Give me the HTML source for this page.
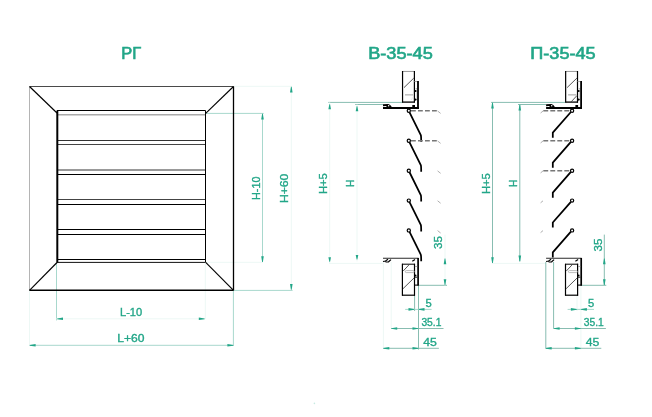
<!DOCTYPE html>
<html><head><meta charset="utf-8"><style>
html,body{margin:0;padding:0;background:#fff;}
svg{display:block;will-change:transform;font-family:"Liberation Sans",sans-serif;}
</style></head><body>
<svg width="652" height="417" viewBox="0 0 652 417">
<rect width="652" height="417" fill="#fff"/>
<line x1="234" y1="86.3" x2="292" y2="86.3" stroke="#edf8f5" stroke-width="1" />
<line x1="291.3" y1="86.5" x2="291.3" y2="290.3" stroke="#edf8f5" stroke-width="1" />
<line x1="233.5" y1="290.4" x2="292.6" y2="290.4" stroke="#a8d8cd" stroke-width="1" />
<line x1="206" y1="113.4" x2="263.7" y2="113.4" stroke="#a8d8cd" stroke-width="1" />
<line x1="262.5" y1="113.4" x2="262.5" y2="262.2" stroke="#a8d8cd" stroke-width="1" />
<line x1="206" y1="262.3" x2="263" y2="262.3" stroke="#edf8f5" stroke-width="1" />
<line x1="56.5" y1="263" x2="56.5" y2="320.4" stroke="#a8d8cd" stroke-width="1" />
<line x1="205.3" y1="262.5" x2="205.3" y2="319" stroke="#edf8f5" stroke-width="1" />
<line x1="56.5" y1="318.8" x2="205.3" y2="318.8" stroke="#edf8f5" stroke-width="1" />
<line x1="29.5" y1="290.5" x2="29.5" y2="345.5" stroke="#edf8f5" stroke-width="1" />
<line x1="233.4" y1="290.5" x2="233.4" y2="346" stroke="#a8d8cd" stroke-width="1" />
<line x1="29.5" y1="345.3" x2="233.4" y2="345.3" stroke="#a8d8cd" stroke-width="1" />
<line x1="328.3" y1="102.4" x2="402.4" y2="102.4" stroke="#88bdb1" stroke-width="1" />
<line x1="355.2" y1="104.5" x2="383.2" y2="104.5" stroke="#88bdb1" stroke-width="1" />
<line x1="329.7" y1="102.4" x2="329.7" y2="263.3" stroke="#edf8f5" stroke-width="1" />
<line x1="357" y1="104.5" x2="357" y2="261.5" stroke="#edf8f5" stroke-width="1" />
<line x1="329" y1="263.4" x2="383" y2="263.4" stroke="#edf8f5" stroke-width="1" />
<line x1="491.1" y1="102.4" x2="565.2" y2="102.4" stroke="#88bdb1" stroke-width="1" />
<line x1="518" y1="104.5" x2="546" y2="104.5" stroke="#88bdb1" stroke-width="1" />
<line x1="492.5" y1="102.4" x2="492.5" y2="263.3" stroke="#88bdb1" stroke-width="1" />
<line x1="519.8" y1="104.5" x2="519.8" y2="261.5" stroke="#88bdb1" stroke-width="1" />
<line x1="491.8" y1="263.4" x2="545.8" y2="263.4" stroke="#edf8f5" stroke-width="1" />
<line x1="418.8" y1="285.3" x2="447" y2="285.3" stroke="#88bdb1" stroke-width="1" />
<line x1="445" y1="234.6" x2="445" y2="285.3" stroke="#edf8f5" stroke-width="1" />
<line x1="383.4" y1="262" x2="383.4" y2="348.5" stroke="#edf8f5" stroke-width="1" />
<line x1="391.2" y1="262" x2="391.2" y2="328.5" stroke="#edf8f5" stroke-width="1" />
<line x1="414.6" y1="295.5" x2="414.6" y2="311" stroke="#88bdb1" stroke-width="1" />
<line x1="418.5" y1="285.3" x2="418.5" y2="349.5" stroke="#88bdb1" stroke-width="1" />
<line x1="405.2" y1="309.4" x2="431.6" y2="309.4" stroke="#a8d8cd" stroke-width="1" />
<line x1="391.1" y1="328.5" x2="443.5" y2="328.5" stroke="#88bdb1" stroke-width="1" />
<line x1="383.2" y1="348.3" x2="438.9" y2="348.3" stroke="#88bdb1" stroke-width="1" />
<line x1="581.2" y1="285.3" x2="606.3" y2="285.3" stroke="#88bdb1" stroke-width="1" />
<line x1="604.3" y1="234.6" x2="604.3" y2="285.3" stroke="#88bdb1" stroke-width="1" />
<line x1="545.8" y1="262" x2="545.8" y2="348.5" stroke="#88bdb1" stroke-width="1" />
<line x1="553.6" y1="262" x2="553.6" y2="328.5" stroke="#88bdb1" stroke-width="1" />
<line x1="577" y1="295.5" x2="577" y2="311" stroke="#edf8f5" stroke-width="1" />
<line x1="580.9" y1="285.3" x2="580.9" y2="349.5" stroke="#edf8f5" stroke-width="1" />
<line x1="567.6" y1="309.4" x2="594" y2="309.4" stroke="#a8d8cd" stroke-width="1" />
<line x1="553.5" y1="328.5" x2="605.9" y2="328.5" stroke="#88bdb1" stroke-width="1" />
<line x1="545.6" y1="348.3" x2="601.3" y2="348.3" stroke="#88bdb1" stroke-width="1" />
<text x="121.2" y="58.8" font-size="17" font-weight="normal" fill="#22a688" stroke="#22a688" stroke-width="0.65" textLength="19.9" lengthAdjust="spacingAndGlyphs">РГ</text>
<line x1="29.5" y1="86.5" x2="233.5" y2="86.5" stroke="#4a4a4a" stroke-width="1" />
<line x1="29.5" y1="86.5" x2="29.5" y2="290.3" stroke="#b4b4b4" stroke-width="1" />
<line x1="233.5" y1="86.5" x2="233.5" y2="290.3" stroke="#000" stroke-width="1.3" />
<line x1="29.5" y1="290.3" x2="233.5" y2="290.3" stroke="#000" stroke-width="1.4" />
<line x1="29.5" y1="86.5" x2="57" y2="113" stroke="#000" stroke-width="1.15" />
<line x1="233.5" y1="86.5" x2="205.7" y2="113.3" stroke="#000" stroke-width="1.15" />
<line x1="29.5" y1="290.3" x2="57" y2="262.5" stroke="#000" stroke-width="1.15" />
<line x1="233.5" y1="290.3" x2="205.7" y2="262.3" stroke="#000" stroke-width="1.15" />
<line x1="57" y1="110.5" x2="205.5" y2="110.5" stroke="#000" stroke-width="1" />
<line x1="57" y1="114.7" x2="205.5" y2="114.7" stroke="#aaa" stroke-width="1.5" />
<line x1="57" y1="140.5" x2="205.5" y2="140.5" stroke="#333" stroke-width="1" />
<line x1="57" y1="144.5" x2="205.5" y2="144.5" stroke="#444" stroke-width="1" />
<line x1="57" y1="170" x2="205.5" y2="170" stroke="#777" stroke-width="1.5" />
<line x1="57" y1="174.5" x2="205.5" y2="174.5" stroke="#000" stroke-width="1" />
<line x1="57" y1="199.5" x2="205.5" y2="199.5" stroke="#444" stroke-width="1" />
<line x1="57" y1="204.5" x2="205.5" y2="204.5" stroke="#000" stroke-width="1" />
<line x1="57" y1="229.5" x2="205.5" y2="229.5" stroke="#000" stroke-width="1" />
<line x1="57" y1="234.5" x2="205.5" y2="234.5" stroke="#000" stroke-width="1" />
<line x1="57" y1="259.5" x2="205.5" y2="259.5" stroke="#000" stroke-width="1" />
<line x1="57" y1="262.4" x2="205.5" y2="262.4" stroke="#111" stroke-width="1" />
<line x1="57.3" y1="110.6" x2="57.3" y2="262.6" stroke="#000" stroke-width="2.0" />
<line x1="205.5" y1="110.5" x2="205.5" y2="262.3" stroke="#000" stroke-width="1" />
<polygon points="290.95,86.8 291.65,86.8 292.6,92.6 290,92.6" fill="#22a688"/>
<polygon points="290.95,289.8 291.65,289.8 292.6,284 290,284" fill="#22a688"/>
<polygon points="262.15,113.8 262.85,113.8 263.8,119.6 261.2,119.6" fill="#22a688"/>
<polygon points="262.15,262 262.85,262 263.8,256.2 261.2,256.2" fill="#22a688"/>
<text transform="translate(260,200) rotate(-90)" x="0" y="0" font-size="11" font-weight="normal" fill="#22a688" stroke="#22a688" stroke-width="0.35" textLength="23.5" lengthAdjust="spacingAndGlyphs">H-10</text>
<text transform="translate(288.4,203.1) rotate(-90)" x="0" y="0" font-size="11" font-weight="normal" fill="#22a688" stroke="#22a688" stroke-width="0.35" textLength="29.3" lengthAdjust="spacingAndGlyphs">H+60</text>
<polygon points="57.2,318.45 57.2,319.15 63,320.1 63,317.5" fill="#22a688"/>
<polygon points="204.6,318.45 204.6,319.15 198.8,320.1 198.8,317.5" fill="#22a688"/>
<text x="120" y="315.8" font-size="11" font-weight="normal" fill="#22a688" stroke="#22a688" stroke-width="0.35" textLength="22.2" lengthAdjust="spacingAndGlyphs">L-10</text>
<polygon points="29.8,344.95 29.8,345.65 35.6,346.6 35.6,344" fill="#22a688"/>
<polygon points="233.2,344.95 233.2,345.65 227.4,346.6 227.4,344" fill="#22a688"/>
<text x="117.3" y="342.3" font-size="11" font-weight="normal" fill="#22a688" stroke="#22a688" stroke-width="0.35" textLength="27.2" lengthAdjust="spacingAndGlyphs">L+60</text>
<path d="M409.4,112.1 L420.8,135.1 Q421.2,136.1 421.2,141.7" fill="none" stroke="#000" stroke-width="1.75"/>
<line x1="411" y1="110.8" x2="438" y2="110.8" stroke="#777" stroke-width="1.6" stroke-dasharray="4.8 2.2"/>
<path d="M437.6,111 L440.6,113.4" stroke="#999" stroke-width="0.8"/>
<circle cx="408.8" cy="110.8" r="1.6" fill="#fff" stroke="#000" stroke-width="1.2"/>
<path d="M409.4,142.05 L420.8,165.05 Q421.2,166.05 421.2,171.65" fill="none" stroke="#000" stroke-width="1.75"/>
<line x1="411" y1="140.75" x2="438" y2="140.75" stroke="#777" stroke-width="1.6" stroke-dasharray="4.8 2.2"/>
<path d="M437.6,140.95 L440.6,143.35" stroke="#999" stroke-width="0.8"/>
<circle cx="408.8" cy="140.75" r="1.6" fill="#fff" stroke="#000" stroke-width="1.2"/>
<path d="M409.4,172 L420.8,195 Q421.2,196 421.2,201.6" fill="none" stroke="#000" stroke-width="1.75"/>
<path d="M437.6,170.9 L440.6,173.3" stroke="#999" stroke-width="0.8"/>
<circle cx="408.8" cy="170.7" r="1.6" fill="#fff" stroke="#000" stroke-width="1.2"/>
<path d="M409.4,201.9 L420.8,224.9 Q421.2,225.9 421.2,231.5" fill="none" stroke="#000" stroke-width="1.75"/>
<path d="M437.6,200.8 L440.6,203.2" stroke="#999" stroke-width="0.8"/>
<circle cx="408.8" cy="200.6" r="1.6" fill="#fff" stroke="#000" stroke-width="1.2"/>
<path d="M409.4,231.7 L420.8,254.7 Q421.2,255.7 421.2,261.3" fill="none" stroke="#000" stroke-width="1.75"/>
<path d="M437.6,230.6 L440.6,233" stroke="#999" stroke-width="0.8"/>
<circle cx="408.8" cy="230.4" r="1.6" fill="#fff" stroke="#000" stroke-width="1.2"/>
<line x1="402.55" y1="71.45" x2="414.4" y2="71.45" stroke="#999" stroke-width="1" />
<line x1="402.55" y1="71" x2="402.55" y2="102.6" stroke="#000" stroke-width="1.2" />
<line x1="414.4" y1="71" x2="414.4" y2="102.6" stroke="#000" stroke-width="1.2" />
<line x1="402.1" y1="102.1" x2="414.9" y2="102.1" stroke="#000" stroke-width="1.3" />
<line x1="404" y1="87.6" x2="413.8" y2="78.1" stroke="#444" stroke-width="0.9" />
<line x1="411" y1="100" x2="413.3" y2="97" stroke="#ddd" stroke-width="0.6" />
<line x1="405" y1="94.8" x2="413.3" y2="94.8" stroke="#c4c4c4" stroke-width="1.6" />
<line x1="414.5" y1="81.5" x2="417.2" y2="81.5" stroke="#aaa" stroke-width="1" />
<line x1="415.6" y1="88.8" x2="417.2" y2="88.8" stroke="#888" stroke-width="0.8" />
<circle cx="415.6" cy="91" r="1.1" fill="#000"/>
<circle cx="415.6" cy="99.6" r="1.1" fill="#000"/>
<line x1="416.3" y1="92" x2="416.3" y2="98.5" stroke="#bbb" stroke-width="0.6" />
<line x1="418" y1="81.1" x2="418" y2="108.9" stroke="#000" stroke-width="1.8" />
<line x1="383" y1="108.05" x2="418.8" y2="108.05" stroke="#000" stroke-width="1.9" />
<path d="M383,104.3 L388.3,104 Q390.3,104.2 392,107.3 L386.8,107.3 Q386.6,106.1 385.6,106.1 L383,106.2 Z" fill="#000"/>
<circle cx="388.6" cy="105.8" r="0.75" fill="#fff"/>
<rect x="412.3" y="105" width="2.7" height="2.2" fill="#000"/>
<line x1="383" y1="258.25" x2="418.5" y2="258.25" stroke="#2a2a2a" stroke-width="1.15" />
<path d="M383,261.5 L385.5,261 L388,259.3 M385.5,262 L388.5,261.8 L391,259.6" fill="none" stroke="#000" stroke-width="1.2"/>
<path d="M412.3,261.3 L415,259.5" stroke="#000" stroke-width="1.2"/>
<line x1="418.1" y1="258" x2="418.1" y2="285.6" stroke="#000" stroke-width="1.7" />
<line x1="414.6" y1="285.1" x2="418.8" y2="285.1" stroke="#000" stroke-width="1.1" />
<line x1="402.4" y1="263.8" x2="402.4" y2="295.7" stroke="#000" stroke-width="1.2" />
<line x1="414.5" y1="263.8" x2="414.5" y2="295.7" stroke="#000" stroke-width="1.2" />
<line x1="402" y1="264.2" x2="415" y2="264.2" stroke="#000" stroke-width="1" />
<line x1="402" y1="295.2" x2="415" y2="295.2" stroke="#000" stroke-width="1.2" />
<line x1="403.2" y1="271" x2="409.5" y2="264.3" stroke="#444" stroke-width="0.9" />
<line x1="403" y1="288.7" x2="414" y2="278" stroke="#444" stroke-width="0.9" />
<rect x="405.3" y="270.6" width="9" height="2" rx="1" fill="none" stroke="#aaa" stroke-width="0.8"/>
<line x1="414.9" y1="266.5" x2="417.2" y2="266.5" stroke="#999" stroke-width="0.8" />
<circle cx="415.6" cy="275.5" r="0.9" fill="#000"/>
<line x1="414.6" y1="277.2" x2="417.2" y2="277.2" stroke="#000" stroke-width="0.9" />
<path d="M570.9,112 L552.8,132.7 L552.8,137.8" fill="none" stroke="#000" stroke-width="1.75"/>
<line x1="543.3" y1="110.8" x2="570" y2="110.8" stroke="#777" stroke-width="1.6" stroke-dasharray="4.9 2.1"/>
<path d="M540.6,113 L543,111" stroke="#999" stroke-width="0.8"/>
<circle cx="572.1" cy="110.8" r="1.6" fill="#fff" stroke="#000" stroke-width="1.2"/>
<path d="M570.9,141.95 L552.8,162.65 L552.8,167.75" fill="none" stroke="#000" stroke-width="1.75"/>
<line x1="543.3" y1="140.75" x2="570" y2="140.75" stroke="#777" stroke-width="1.6" stroke-dasharray="4.9 2.1"/>
<path d="M540.6,142.95 L543,140.95" stroke="#999" stroke-width="0.8"/>
<circle cx="572.1" cy="140.75" r="1.6" fill="#fff" stroke="#000" stroke-width="1.2"/>
<path d="M570.9,171.9 L552.8,192.6 L552.8,197.7" fill="none" stroke="#000" stroke-width="1.75"/>
<line x1="543.3" y1="170.7" x2="570" y2="170.7" stroke="#777" stroke-width="1.6" stroke-dasharray="4.9 2.1"/>
<path d="M540.6,172.9 L543,170.9" stroke="#999" stroke-width="0.8"/>
<circle cx="572.1" cy="170.7" r="1.6" fill="#fff" stroke="#000" stroke-width="1.2"/>
<path d="M570.9,201.8 L552.8,222.5 L552.8,227.6" fill="none" stroke="#000" stroke-width="1.75"/>
<path d="M540.6,202.8 L543,200.8" stroke="#999" stroke-width="0.8"/>
<circle cx="572.1" cy="200.6" r="1.6" fill="#fff" stroke="#000" stroke-width="1.2"/>
<path d="M570.9,231.6 L552.8,252.3 L552.8,257.4" fill="none" stroke="#000" stroke-width="1.75"/>
<path d="M540.6,232.6 L543,230.6" stroke="#999" stroke-width="0.8"/>
<circle cx="572.1" cy="230.4" r="1.6" fill="#fff" stroke="#000" stroke-width="1.2"/>
<line x1="565.65" y1="71.45" x2="577.5" y2="71.45" stroke="#999" stroke-width="1" />
<line x1="565.65" y1="71" x2="565.65" y2="102.6" stroke="#000" stroke-width="1.2" />
<line x1="577.5" y1="71" x2="577.5" y2="102.6" stroke="#000" stroke-width="1.2" />
<line x1="565.2" y1="102.1" x2="578" y2="102.1" stroke="#000" stroke-width="1.3" />
<line x1="567.1" y1="87.6" x2="576.9" y2="78.1" stroke="#444" stroke-width="0.9" />
<line x1="571" y1="102" x2="577" y2="95.5" stroke="#444" stroke-width="0.9" />
<line x1="568.1" y1="94.8" x2="576.4" y2="94.8" stroke="#c4c4c4" stroke-width="1.6" />
<line x1="577.6" y1="81.5" x2="580.3" y2="81.5" stroke="#aaa" stroke-width="1" />
<line x1="578.7" y1="88.8" x2="580.3" y2="88.8" stroke="#888" stroke-width="0.8" />
<circle cx="578.7" cy="91" r="1.1" fill="#000"/>
<circle cx="578.7" cy="99.6" r="1.1" fill="#000"/>
<line x1="579.4" y1="92" x2="579.4" y2="98.5" stroke="#bbb" stroke-width="0.6" />
<line x1="581.1" y1="81.1" x2="581.1" y2="108.9" stroke="#000" stroke-width="1.8" />
<line x1="546.1" y1="108.05" x2="581.9" y2="108.05" stroke="#000" stroke-width="1.9" />
<path d="M546.1,104.3 L551.4,104 Q553.4,104.2 555.1,107.3 L549.9,107.3 Q549.7,106.1 548.7,106.1 L546.1,106.2 Z" fill="#000"/>
<circle cx="551.7" cy="105.8" r="0.75" fill="#fff"/>
<rect x="575.4" y="105" width="2.7" height="2.2" fill="#000"/>
<line x1="546.1" y1="258.25" x2="581.6" y2="258.25" stroke="#2a2a2a" stroke-width="1.15" />
<path d="M546.1,261.5 L548.6,261 L551.1,259.3 M548.6,262 L551.6,261.8 L554.1,259.6" fill="none" stroke="#000" stroke-width="1.2"/>
<path d="M575.4,261.3 L578.1,259.5" stroke="#000" stroke-width="1.2"/>
<line x1="581.2" y1="258" x2="581.2" y2="285.6" stroke="#000" stroke-width="1.7" />
<line x1="577.7" y1="285.1" x2="581.9" y2="285.1" stroke="#000" stroke-width="1.1" />
<line x1="565.5" y1="263.8" x2="565.5" y2="295.7" stroke="#000" stroke-width="1.2" />
<line x1="577.6" y1="263.8" x2="577.6" y2="295.7" stroke="#000" stroke-width="1.2" />
<line x1="565.1" y1="264.2" x2="578.1" y2="264.2" stroke="#000" stroke-width="1" />
<line x1="565.1" y1="295.2" x2="578.1" y2="295.2" stroke="#000" stroke-width="1.2" />
<line x1="566.3" y1="271" x2="572.6" y2="264.3" stroke="#444" stroke-width="0.9" />
<line x1="566.1" y1="288.7" x2="577.1" y2="278" stroke="#444" stroke-width="0.9" />
<rect x="568.4" y="270.6" width="9" height="2" rx="1" fill="none" stroke="#aaa" stroke-width="0.8"/>
<line x1="578" y1="266.5" x2="580.3" y2="266.5" stroke="#999" stroke-width="0.8" />
<circle cx="578.7" cy="275.5" r="0.9" fill="#000"/>
<line x1="577.7" y1="277.2" x2="580.3" y2="277.2" stroke="#000" stroke-width="0.9" />
<text x="368.2" y="58.6" font-size="17" font-weight="normal" fill="#22a688" stroke="#22a688" stroke-width="0.65" textLength="64.6" lengthAdjust="spacingAndGlyphs">В-35-45</text>
<text x="530.3" y="58.6" font-size="17" font-weight="normal" fill="#22a688" stroke="#22a688" stroke-width="0.65" textLength="65.3" lengthAdjust="spacingAndGlyphs">П-35-45</text>
<polygon points="329.35,104.2 330.05,104.2 331,109.2 328.4,109.2" fill="#22a688"/>
<polygon points="329.35,261.8 330.05,261.8 331,257.3 328.4,257.3" fill="#22a688"/>
<polygon points="356.65,106.3 357.35,106.3 358.3,111.3 355.7,111.3" fill="#22a688"/>
<polygon points="356.65,259.6 357.35,259.6 358.3,255.1 355.7,255.1" fill="#22a688"/>
<text transform="translate(327,194) rotate(-90)" x="0" y="0" font-size="11" font-weight="normal" fill="#22a688" stroke="#22a688" stroke-width="0.35" textLength="20.8" lengthAdjust="spacingAndGlyphs">H+5</text>
<text transform="translate(354,187) rotate(-90)" x="0" y="0" font-size="11" font-weight="normal" fill="#22a688" stroke="#22a688" stroke-width="0.35" textLength="7.2" lengthAdjust="spacingAndGlyphs">H</text>
<polygon points="492.15,102.8 492.85,102.8 493.8,108.6 491.2,108.6" fill="#22a688"/>
<polygon points="492.15,263 492.85,263 493.8,257.2 491.2,257.2" fill="#22a688"/>
<polygon points="519.45,104.8 520.15,104.8 521.1,110.6 518.5,110.6" fill="#22a688"/>
<polygon points="519.45,261.3 520.15,261.3 521.1,255.5 518.5,255.5" fill="#22a688"/>
<text transform="translate(489.8,194) rotate(-90)" x="0" y="0" font-size="11" font-weight="normal" fill="#22a688" stroke="#22a688" stroke-width="0.35" textLength="20.8" lengthAdjust="spacingAndGlyphs">H+5</text>
<text transform="translate(516.8,187) rotate(-90)" x="0" y="0" font-size="11" font-weight="normal" fill="#22a688" stroke="#22a688" stroke-width="0.35" textLength="7.2" lengthAdjust="spacingAndGlyphs">H</text>
<polygon points="444.65,258.4 445.35,258.4 446.3,264.2 443.7,264.2" fill="#22a688"/>
<polygon points="444.65,285 445.35,285 446.3,279.2 443.7,279.2" fill="#22a688"/>
<text transform="translate(442.4,248.9) rotate(-90)" x="0" y="0" font-size="11" font-weight="normal" fill="#22a688" stroke="#22a688" stroke-width="0.35" textLength="12.8" lengthAdjust="spacingAndGlyphs">35</text>
<polygon points="414.3,309.05 414.3,309.75 408.5,310.7 408.5,308.1" fill="#22a688"/>
<polygon points="418.7,309.05 418.7,309.75 424.5,310.7 424.5,308.1" fill="#22a688"/>
<text x="425.6" y="307" font-size="11" font-weight="normal" fill="#22a688" stroke="#22a688" stroke-width="0.35" textLength="6.2" lengthAdjust="spacingAndGlyphs">5</text>
<polygon points="391.4,328.15 391.4,328.85 397.2,329.8 397.2,327.2" fill="#22a688"/>
<polygon points="418.3,328.15 418.3,328.85 412.5,329.8 412.5,327.2" fill="#22a688"/>
<text x="421.4" y="325.7" font-size="11" font-weight="normal" fill="#22a688" stroke="#22a688" stroke-width="0.35" textLength="20" lengthAdjust="spacingAndGlyphs">35.1</text>
<polygon points="383.5,347.95 383.5,348.65 389.3,349.6 389.3,347" fill="#22a688"/>
<polygon points="418.3,347.95 418.3,348.65 412.5,349.6 412.5,347" fill="#22a688"/>
<text x="423.3" y="345.5" font-size="11" font-weight="normal" fill="#22a688" stroke="#22a688" stroke-width="0.35" textLength="13.6" lengthAdjust="spacingAndGlyphs">45</text>
<polygon points="603.95,258.4 604.65,258.4 605.6,264.2 603,264.2" fill="#22a688"/>
<polygon points="603.95,285 604.65,285 605.6,279.2 603,279.2" fill="#22a688"/>
<text transform="translate(601.7,251.5) rotate(-90)" x="0" y="0" font-size="11" font-weight="normal" fill="#22a688" stroke="#22a688" stroke-width="0.35" textLength="12.8" lengthAdjust="spacingAndGlyphs">35</text>
<polygon points="576.7,309.05 576.7,309.75 570.9,310.7 570.9,308.1" fill="#22a688"/>
<polygon points="581.1,309.05 581.1,309.75 586.9,310.7 586.9,308.1" fill="#22a688"/>
<text x="588" y="307" font-size="11" font-weight="normal" fill="#22a688" stroke="#22a688" stroke-width="0.35" textLength="6.2" lengthAdjust="spacingAndGlyphs">5</text>
<polygon points="553.8,328.15 553.8,328.85 559.6,329.8 559.6,327.2" fill="#22a688"/>
<polygon points="580.7,328.15 580.7,328.85 574.9,329.8 574.9,327.2" fill="#22a688"/>
<text x="583.8" y="325.7" font-size="11" font-weight="normal" fill="#22a688" stroke="#22a688" stroke-width="0.35" textLength="20" lengthAdjust="spacingAndGlyphs">35.1</text>
<polygon points="545.9,347.95 545.9,348.65 551.7,349.6 551.7,347" fill="#22a688"/>
<polygon points="580.7,347.95 580.7,348.65 574.9,349.6 574.9,347" fill="#22a688"/>
<text x="585.7" y="345.5" font-size="11" font-weight="normal" fill="#22a688" stroke="#22a688" stroke-width="0.35" textLength="13.6" lengthAdjust="spacingAndGlyphs">45</text>
<circle cx="314.4" cy="403.4" r="0.8" fill="#c8eae2"/>
</svg>
</body></html>
